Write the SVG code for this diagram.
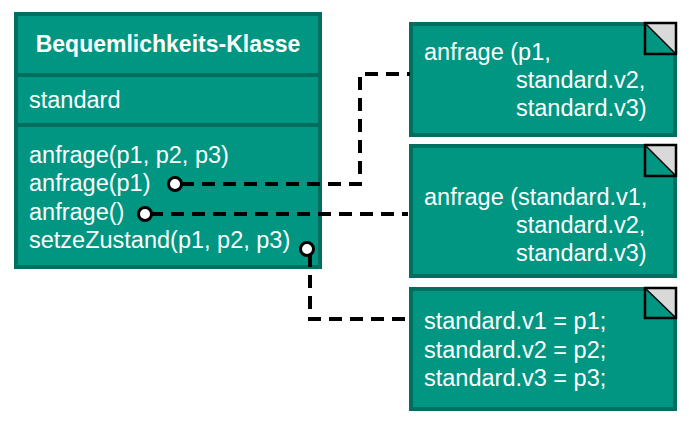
<svg xmlns="http://www.w3.org/2000/svg" width="694" height="428" viewBox="0 0 694 428">
<style>
.box{fill:#009682;stroke:#006F60;stroke-width:4}
.div{fill:#006F60}
.t{font-family:"Liberation Sans",Arial,sans-serif;font-size:23.5px;fill:#ffffff}
.b{font-weight:bold;font-size:23px}
.corner{fill:#d9d9d9}
.tri{fill:#009682}
.cb{fill:none;stroke:#000;stroke-width:2.5}
.conn{fill:none;stroke:#000;stroke-width:4;stroke-dasharray:13 8}
.pin{fill:#fff;stroke:#000;stroke-width:3}
</style>
<rect width="694" height="428" fill="#fff"/>
<g id="class">
<rect class="box" x="16" y="14" width="304" height="253"/>
<rect class="div" x="16" y="73" width="304" height="4"/>
<rect class="div" x="16" y="123" width="304" height="4"/>
<text class="t b" x="168" y="52" text-anchor="middle">Bequemlichkeits-Klasse</text>
<text class="t" x="29" y="108">standard</text>
<text class="t" x="29" y="163">anfrage(p1, p2, p3)</text>
<text class="t" x="29" y="191">anfrage(p1)</text>
<text class="t" x="29" y="220">anfrage()</text>
<text class="t" x="29" y="248">setzeZustand(p1, p2, p3)</text>
</g>
<g id="note1">
<rect class="box" x="411" y="24" width="264" height="111"/>
<rect class="corner" x="645" y="23" width="31" height="31"/>
<polygon class="tri" points="645,23 676,54 645,54"/>
<line x1="645" y1="23" x2="676" y2="54" stroke="#000" stroke-width="1.5"/>
<rect class="cb" x="645" y="23" width="31" height="31"/>
<text class="t" x="424" y="60">anfrage (p1,</text>
<text class="t" x="516" y="88">standard.v2,</text>
<text class="t" x="516" y="116">standard.v3)</text>
</g>
<g id="note2">
<rect class="box" x="411" y="146" width="264" height="130"/>
<rect class="corner" x="645" y="145" width="31" height="31"/>
<polygon class="tri" points="645,145 676,176 645,176"/>
<line x1="645" y1="145" x2="676" y2="176" stroke="#000" stroke-width="1.5"/>
<rect class="cb" x="645" y="145" width="31" height="31"/>
<text class="t" x="424" y="205">anfrage (standard.v1,</text>
<text class="t" x="516" y="233">standard.v2,</text>
<text class="t" x="516" y="261">standard.v3)</text>
</g>
<g id="note3">
<rect class="box" x="411" y="289" width="264" height="120"/>
<rect class="corner" x="645" y="288" width="31" height="30"/>
<polygon class="tri" points="645,288 676,318 645,318"/>
<line x1="645" y1="288" x2="676" y2="318" stroke="#000" stroke-width="1.5"/>
<rect class="cb" x="645" y="288" width="31" height="30"/>
<text class="t" x="424" y="329">standard.v1 = p1;</text>
<text class="t" x="424" y="358">standard.v2 = p2;</text>
<text class="t" x="424" y="386">standard.v3 = p3;</text>
</g>
<g id="connectors">
<polyline class="conn" points="181,184 360,184 360,74 410,74"/>
<polyline class="conn" points="150,214 408,214"/>
<polyline class="conn" points="310,254 310,319 410,319"/>
<circle class="pin" cx="175" cy="184" r="6.5"/>
<circle class="pin" cx="145" cy="214" r="6.5"/>
<circle class="pin" cx="307" cy="249" r="6.5"/>
</g>
</svg>
